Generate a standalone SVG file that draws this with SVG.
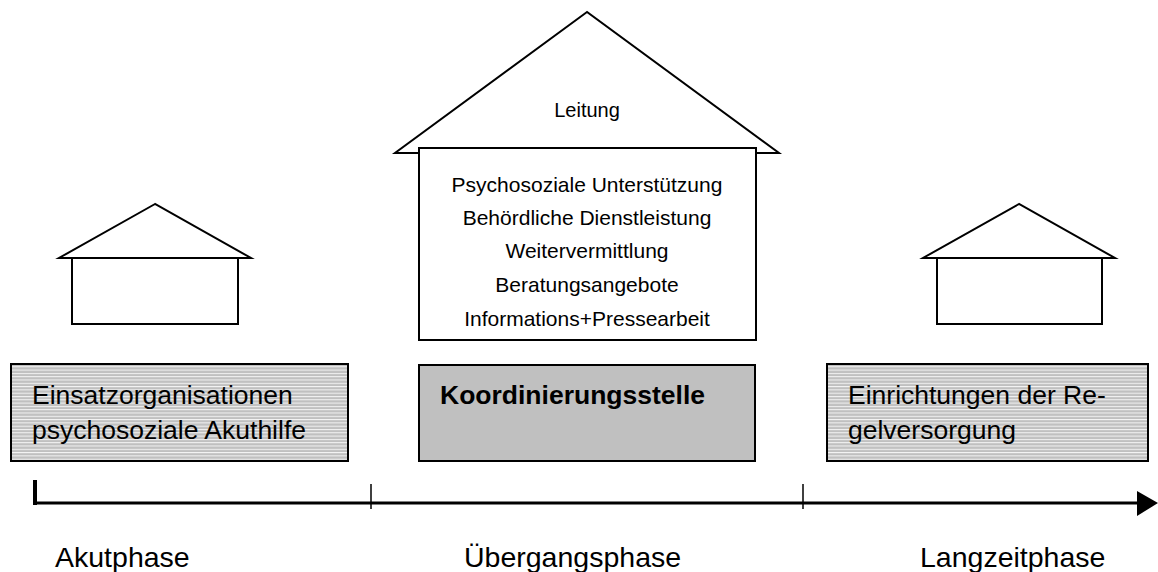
<svg xmlns="http://www.w3.org/2000/svg" width="1158" height="572" viewBox="0 0 1158 572">
<style>
.ln{fill:#fff;stroke:#000;stroke-width:2}
.t{font-family:"Liberation Sans",Arial,sans-serif;fill:#000}
.s{font-size:21px;text-anchor:middle}
.b{font-size:26.5px}
.p{font-size:28.5px}
.bx{stroke:#000;stroke-width:2}
</style>
<defs>
<pattern id="stripes" width="8" height="3.3" patternUnits="userSpaceOnUse">
<rect width="8" height="3.3" fill="#c0c0c0"/>
<rect y="0" width="8" height="1" fill="#f4f4f4"/>
</pattern>
</defs>
<rect width="1158" height="572" fill="#fff"/>
<g id="house-left">
<polygon class="ln" points="155,204 59,258 251,258"/>
<rect class="ln" x="72" y="258" width="166" height="66"/>
</g>
<g id="house-center">
<polygon class="ln" points="587,12 395,153 779,153"/>
<rect class="ln" x="419" y="148" width="337" height="192"/>
<text class="t" x="587" y="117" font-size="20" text-anchor="middle">Leitung</text>
<text class="t s" x="587" y="192">Psychosoziale Unterstützung</text>
<text class="t s" x="587" y="225">Behördliche Dienstleistung</text>
<text class="t s" x="587" y="258">Weitervermittlung</text>
<text class="t s" x="587" y="292">Beratungsangebote</text>
<text class="t s" x="587" y="326">Informations+Pressearbeit</text>
</g>
<g id="house-right">
<polygon class="ln" points="1019,204 923,258 1115,258"/>
<rect class="ln" x="937" y="258" width="165" height="66"/>
</g>
<g id="box-left">
<rect class="bx" x="11" y="364" width="337" height="97" fill="url(#stripes)"/>
<text class="t b" x="32" y="404">Einsatzorganisationen</text>
<text class="t b" x="32" y="439">psychosoziale Akuthilfe</text>
</g>
<g id="box-center">
<rect class="bx" x="419" y="365" width="336" height="96" fill="#c0c0c0"/>
<text class="t b" x="440" y="404" font-weight="bold">Koordinierungsstelle</text>
</g>
<g id="box-right">
<rect class="bx" x="827" y="364" width="321" height="97" fill="url(#stripes)"/>
<text class="t b" x="848" y="404">Einrichtungen der Re-</text>
<text class="t b" x="848" y="439">gelversorgung</text>
</g>
<g id="connectors">
<line x1="35" y1="480" x2="35" y2="505" stroke="#000" stroke-width="4"/>
<line x1="33" y1="503" x2="1140" y2="503" stroke="#000" stroke-width="3"/>
<polygon points="1137,491 1158,503 1137,516" fill="#000"/>
<line x1="371" y1="484" x2="371" y2="509" stroke="#000" stroke-width="1.5"/>
<line x1="803" y1="484" x2="803" y2="509" stroke="#000" stroke-width="1.5"/>
</g>
<g id="labels">
<text class="t p" x="55" y="567">Akutphase</text>
<text class="t p" x="464" y="567">Übergangsphase</text>
<text class="t p" x="920" y="567">Langzeitphase</text>
</g>
</svg>
